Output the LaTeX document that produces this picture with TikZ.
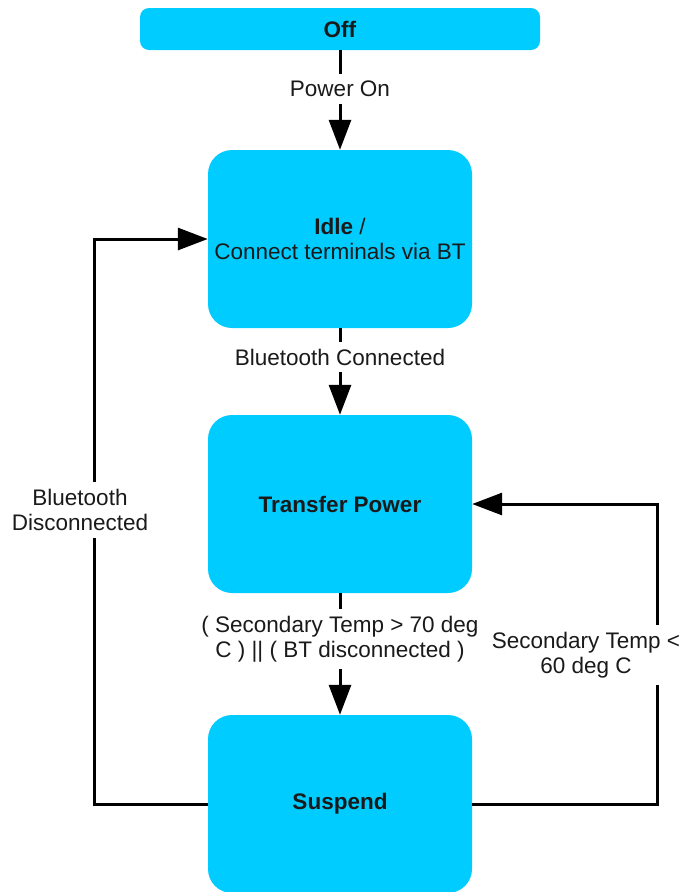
\documentclass[tikz,border=0pt]{standalone}
\usepackage{fontspec}
\setmainfont{Liberation Sans}
\usetikzlibrary{arrows.meta}
\definecolor{boxcyan}{HTML}{00CCFF}
\definecolor{txt}{HTML}{1A1A1A}
\begin{document}
\begin{tikzpicture}[x=1pt,y=-1pt,
  state/.style={fill=boxcyan, draw=none, rounded corners=24pt, minimum width=264pt, minimum height=178pt, inner sep=0pt, align=center, text=txt, font=\fontsize{22.5}{25}\selectfont},
  lab/.style={fill=white, inner xsep=3pt, inner ysep=7pt, align=center, text=txt, font=\fontsize{22.5}{25}\selectfont},
  arr/.style={line width=3pt, -{Triangle[length=30pt,width=22pt]}},
  conn/.style={line width=3pt}]
\useasboundingbox (0,0) rectangle (684,892);
\node[state, rounded corners=9pt, minimum width=400pt, minimum height=42pt] (off) at (340,29) {\textbf{Off}};
\node[state] (idle) at (340,239) {\textbf{Idle} /\\Connect terminals via BT};
\node[state] (tp) at (340,504) {\textbf{Transfer Power}};
\node[state] (susp) at (340,804) {\textbf{Suspend}};
\coordinate (lc) at (94,804);
\coordinate (rc) at (657,804);
\draw[arr] (off) -- (idle);
\draw[arr] (idle) -- (tp);
\draw[arr] (tp) -- (susp);
\draw[arr] (susp.west) -- (lc) |- (idle.west);
\draw[arr] (susp.east) -- (rc) |- (tp.east);
\node[lab] (l1) at (340,89) {Power On};
\node[lab] (l2) at (340,357) {Bluetooth Connected};
\node[lab] (l3) at (340,639) {( Secondary Temp > 70 deg\\C ) || ( BT disconnected )};
\node[lab] (l4) at (80,510) {Bluetooth\\Disconnected};
\node[lab] (l5) at (586,655) {Secondary Temp <\\60 deg C};
\end{tikzpicture}
\end{document}
